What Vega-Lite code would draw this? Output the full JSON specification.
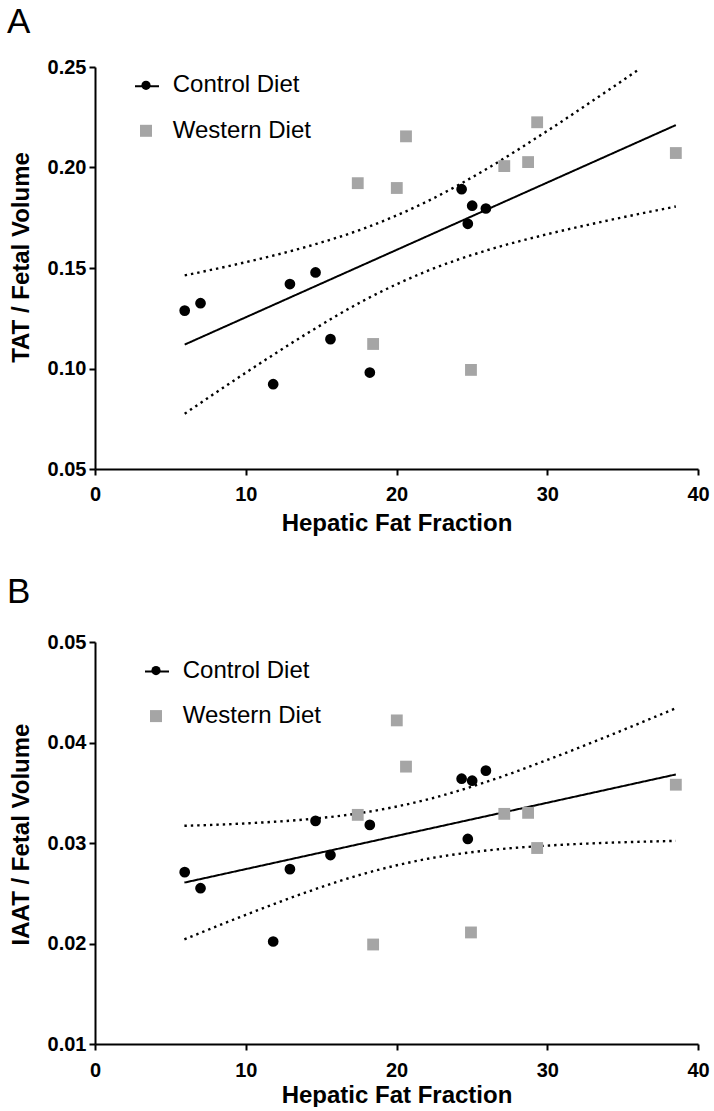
{
  "$schema": "https://vega.github.io/schema/vega-lite/v6.json",
  "padding": {"left": 7, "top": 5, "right": 0, "bottom": 0},
  "background": "white",
  "spacing": 40,
  "datasets": {
    "pts": [
      {"diet": "Control Diet", "hff": 5.95, "tat": 0.1288, "iaat": 0.0271},
      {"diet": "Control Diet", "hff": 7.00, "tat": 0.1325, "iaat": 0.0255},
      {"diet": "Control Diet", "hff": 11.82, "tat": 0.0922, "iaat": 0.0202},
      {"diet": "Control Diet", "hff": 12.93, "tat": 0.1420, "iaat": 0.0274},
      {"diet": "Control Diet", "hff": 14.63, "tat": 0.1478, "iaat": 0.0322},
      {"diet": "Control Diet", "hff": 15.62, "tat": 0.1146, "iaat": 0.0288},
      {"diet": "Control Diet", "hff": 18.23, "tat": 0.0980, "iaat": 0.0318},
      {"diet": "Control Diet", "hff": 24.32, "tat": 0.1892, "iaat": 0.0364},
      {"diet": "Control Diet", "hff": 24.73, "tat": 0.1720, "iaat": 0.0304},
      {"diet": "Control Diet", "hff": 25.02, "tat": 0.1810, "iaat": 0.0362},
      {"diet": "Control Diet", "hff": 25.93, "tat": 0.1796, "iaat": 0.0372},
      {"diet": "Western Diet", "hff": 17.43, "tat": 0.1922, "iaat": 0.0328},
      {"diet": "Western Diet", "hff": 18.45, "tat": 0.1122, "iaat": 0.0199},
      {"diet": "Western Diet", "hff": 20.02, "tat": 0.1898, "iaat": 0.0422},
      {"diet": "Western Diet", "hff": 20.63, "tat": 0.2155, "iaat": 0.0376},
      {"diet": "Western Diet", "hff": 24.94, "tat": 0.0993, "iaat": 0.0211},
      {"diet": "Western Diet", "hff": 27.15, "tat": 0.2007, "iaat": 0.0329},
      {"diet": "Western Diet", "hff": 28.73, "tat": 0.2027, "iaat": 0.0330},
      {"diet": "Western Diet", "hff": 29.33, "tat": 0.2225, "iaat": 0.0295},
      {"diet": "Western Diet", "hff": 38.53, "tat": 0.2072, "iaat": 0.0358}
    ],
    "fitA": [
      {"hff": 5.95, "val": 0.1119},
      {"hff": 38.53, "val": 0.2211}
    ],
    "ciA": [
      {"series": "upper", "hff": 5.95, "val": 0.1463},
      {"series": "upper", "hff": 10, "val": 0.1529},
      {"series": "upper", "hff": 14, "val": 0.1605},
      {"series": "upper", "hff": 18, "val": 0.1701},
      {"series": "upper", "hff": 22, "val": 0.1830},
      {"series": "upper", "hff": 26, "val": 0.1994},
      {"series": "upper", "hff": 30, "val": 0.2182},
      {"series": "upper", "hff": 34, "val": 0.2382},
      {"series": "upper", "hff": 36.1, "val": 0.2489},
      {"series": "lower", "hff": 5.95, "val": 0.0775},
      {"series": "lower", "hff": 10, "val": 0.0979},
      {"series": "lower", "hff": 14, "val": 0.1171},
      {"series": "lower", "hff": 18, "val": 0.1345},
      {"series": "lower", "hff": 22, "val": 0.1484},
      {"series": "lower", "hff": 26, "val": 0.1588},
      {"series": "lower", "hff": 30, "val": 0.1668},
      {"series": "lower", "hff": 34, "val": 0.1736},
      {"series": "lower", "hff": 38.53, "val": 0.1806}
    ],
    "fitB": [
      {"hff": 5.93, "val": 0.02606},
      {"hff": 38.53, "val": 0.03682}
    ],
    "ciB": [
      {"series": "upper", "hff": 5.93, "val": 0.03171},
      {"series": "upper", "hff": 10, "val": 0.03195},
      {"series": "upper", "hff": 14, "val": 0.03235},
      {"series": "upper", "hff": 18, "val": 0.03307},
      {"series": "upper", "hff": 22, "val": 0.03431},
      {"series": "upper", "hff": 26, "val": 0.0361},
      {"series": "upper", "hff": 30, "val": 0.03826},
      {"series": "upper", "hff": 34, "val": 0.04062},
      {"series": "upper", "hff": 38.53, "val": 0.04341},
      {"series": "lower", "hff": 5.93, "val": 0.02041},
      {"series": "lower", "hff": 10, "val": 0.02285},
      {"series": "lower", "hff": 14, "val": 0.02509},
      {"series": "lower", "hff": 18, "val": 0.02701},
      {"series": "lower", "hff": 22, "val": 0.02841},
      {"series": "lower", "hff": 26, "val": 0.02926},
      {"series": "lower", "hff": 30, "val": 0.02974},
      {"series": "lower", "hff": 34, "val": 0.03002},
      {"series": "lower", "hff": 38.53, "val": 0.03021}
    ]
  },
  "vconcat": [
    {
      "title": {"text": "A", "offset": 16.6, "dx": -2},
      "width": 603,
      "height": 402,
      "layer": [
        {
          "data": {"name": "ciA"},
          "mark": {"type": "line", "color": "black", "strokeWidth": 2.4, "strokeDash": [2.4, 4], "interpolate": "monotone"},
          "encoding": {
            "x": {"field": "hff", "type": "quantitative", "scale": {"domain": [0, 40], "nice": false}, "axis": {"title": "Hepatic Fat Fraction", "values": [0, 10, 20, 30, 40], "labelPadding": 9, "titlePadding": 7}},
            "y": {"field": "val", "type": "quantitative", "scale": {"domain": [0.05, 0.25], "nice": false, "zero": false}, "axis": {"title": "TAT / Fetal Volume", "values": [0.05, 0.1, 0.15, 0.2, 0.25], "format": ".2f", "titleY": 190}},
            "detail": {"field": "series", "type": "nominal"}
          }
        },
        {
          "data": {"name": "fitA"},
          "mark": {"type": "line", "color": "black", "strokeWidth": 2},
          "encoding": {
            "x": {"field": "hff", "type": "quantitative"},
            "y": {"field": "val", "type": "quantitative"},
            "strokeDash": {"datum": "Control Diet", "type": "nominal", "scale": {"domain": ["Control Diet"], "range": [[1, 0]]},
              "legend": {"legendX": 39, "legendY": 6.3, "symbolType": "stroke", "symbolStrokeColor": "black", "symbolStrokeWidth": 2, "symbolSize": 576, "labelColor": "transparent"}}
          }
        },
        {
          "data": {"name": "pts"},
          "mark": {"type": "point", "filled": true, "opacity": 1},
          "encoding": {
            "x": {"field": "hff", "type": "quantitative"},
            "y": {"field": "tat", "type": "quantitative"},
            "color": {"field": "diet", "type": "nominal", "scale": {"domain": ["Control Diet", "Western Diet"], "range": ["black", "#a5a5a5"]},
              "legend": {"legendX": 39, "legendY": 6.3, "rowPadding": 21.5,
                "encode": {"symbols": {"update": {
                  "shape": {"signal": "datum.value === 'Control Diet' ? 'circle' : 'square'"},
                  "size": {"signal": "datum.value === 'Control Diet' ? 85 : 144"},
                  "fill": {"signal": "datum.value === 'Control Diet' ? 'black' : '#a5a5a5'"},
                  "opacity": {"value": 1}}}}}},
            "shape": {"field": "diet", "type": "nominal", "scale": {"domain": ["Control Diet", "Western Diet"], "range": ["circle", "square"]}, "legend": null},
            "size": {"condition": {"test": "datum.diet === 'Control Diet'", "value": 115}, "value": 140}
          }
        }
      ]
    },
    {
      "title": {"text": "B", "offset": 21.6, "dx": -2},
      "width": 603,
      "height": 402,
      "layer": [
        {
          "data": {"name": "ciB"},
          "mark": {"type": "line", "color": "black", "strokeWidth": 2.4, "strokeDash": [2.4, 4], "interpolate": "monotone"},
          "encoding": {
            "x": {"field": "hff", "type": "quantitative", "scale": {"domain": [0, 40], "nice": false}, "axis": {"title": "Hepatic Fat Fraction", "values": [0, 10, 20, 30, 40], "labelPadding": 10, "titlePadding": 3}},
            "y": {"field": "val", "type": "quantitative", "scale": {"domain": [0.01, 0.05], "nice": false, "zero": false}, "axis": {"title": "IAAT / Fetal Volume", "values": [0.01, 0.02, 0.03, 0.04, 0.05], "format": ".2f", "titleY": 192}},
            "detail": {"field": "series", "type": "nominal"}
          }
        },
        {
          "data": {"name": "fitB"},
          "mark": {"type": "line", "color": "black", "strokeWidth": 2},
          "encoding": {
            "x": {"field": "hff", "type": "quantitative"},
            "y": {"field": "val", "type": "quantitative"},
            "strokeDash": {"datum": "Control Diet", "type": "nominal", "scale": {"domain": ["Control Diet"], "range": [[1, 0]]},
              "legend": {"legendX": 49, "legendY": 16.6, "symbolType": "stroke", "symbolStrokeColor": "black", "symbolStrokeWidth": 2, "symbolSize": 576, "labelColor": "transparent"}}
          }
        },
        {
          "data": {"name": "pts"},
          "mark": {"type": "point", "filled": true, "opacity": 1},
          "encoding": {
            "x": {"field": "hff", "type": "quantitative"},
            "y": {"field": "iaat", "type": "quantitative"},
            "color": {"field": "diet", "type": "nominal", "scale": {"domain": ["Control Diet", "Western Diet"], "range": ["black", "#a5a5a5"]},
              "legend": {"legendX": 49, "legendY": 16.6, "rowPadding": 21.5,
                "encode": {"symbols": {"update": {
                  "shape": {"signal": "datum.value === 'Control Diet' ? 'circle' : 'square'"},
                  "size": {"signal": "datum.value === 'Control Diet' ? 85 : 144"},
                  "fill": {"signal": "datum.value === 'Control Diet' ? 'black' : '#a5a5a5'"},
                  "opacity": {"value": 1}}}}}},
            "shape": {"field": "diet", "type": "nominal", "scale": {"domain": ["Control Diet", "Western Diet"], "range": ["circle", "square"]}, "legend": null},
            "size": {"condition": {"test": "datum.diet === 'Control Diet'", "value": 115}, "value": 140}
          }
        }
      ]
    }
  ],
  "resolve": {"scale": {"color": "independent", "shape": "independent", "strokeDash": "independent"}},
  "config": {
    "view": {"stroke": null},
    "font": "Liberation Sans",
    "title": {"anchor": "start", "frame": "bounds", "fontSize": 35, "fontWeight": "normal", "font": "Liberation Sans", "color": "black"},
    "axis": {
      "domainColor": "black", "domainWidth": 2, "tickColor": "black", "tickWidth": 2, "tickSize": 6,
      "grid": false, "labelFlush": false, "labelOverlap": false,
      "labelFont": "Liberation Sans", "labelFontSize": 20, "labelFontWeight": "bold", "labelColor": "black",
      "titleFont": "Liberation Sans", "titleFontSize": 24, "titleFontWeight": "bold", "titleColor": "black"
    },
    "axisY": {"labelPadding": 3, "titlePadding": 14},
    "legend": {
      "orient": "none", "title": null, "padding": 0,
      "symbolSize": 576, "labelFont": "Liberation Sans", "labelFontSize": 24, "labelColor": "black",
      "rowPadding": 17.7, "labelOffset": 14.7, "symbolOpacity": 1,
      "labelLimit": 400
    }
  }
}
